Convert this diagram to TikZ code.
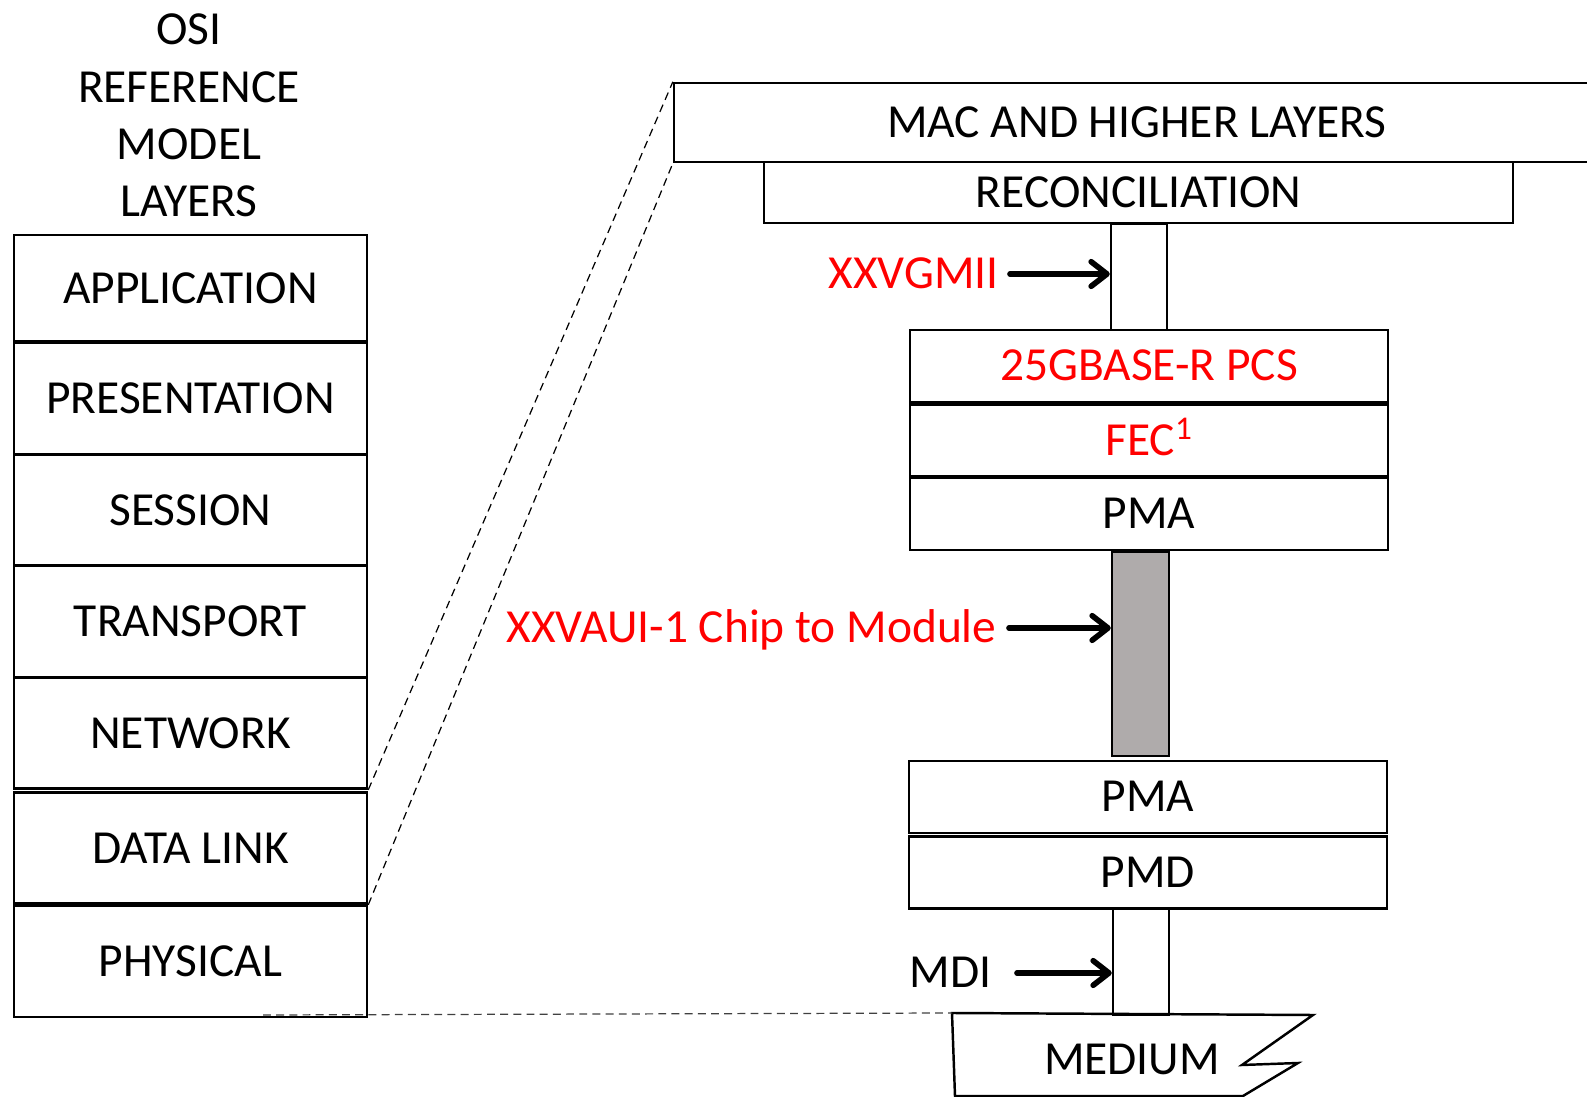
\documentclass[tikz,border=0pt]{standalone}
\usepackage{fontspec}
\setmainfont{Carlito}
\usetikzlibrary{arrows.meta}
\definecolor{auigray}{RGB}{175,171,171}

\begin{document}
\begin{tikzpicture}[
  x=0.02cm, y=-0.02cm,
  every node/.style={font=\fontsize{27pt}{32.6pt}\selectfont, inner sep=0pt},
  osibox/.style={draw, line width=1.5pt, minimum width=7.06cm, minimum height=2.22cm},
  layerbox/.style={draw, line width=1.4pt, minimum width=9.56cm, minimum height=1.44cm,
    text height=17pt, text depth=0pt},
  busbox/.style={draw, line width=1.4pt, minimum width=1.12cm, minimum height=2.12cm},
  lbl/.style={anchor=east, text height=17pt, text depth=0pt},
  ptr/.style={line width=3.2pt, line cap=round,
    -{Straight Barb[length=9pt,width=14pt,line cap=round,line join=round]}},
  zoomline/.style={dash pattern=on 4.5pt off 3pt, line width=0.7pt}
]
\useasboundingbox (0,0) rectangle (1587,1097);

% OSI stack
\node[align=center] (osi) at (189,115.5) {OSI\\REFERENCE\\MODEL\\LAYERS};
\node[osibox, minimum height=2.12cm] (app) at (190.5,288) {APPLICATION};
\node[osibox] (pres) at (190.5,398.5) {PRESENTATION};
\node[osibox] (sess) at (190.5,510) {SESSION};
\node[osibox] (trans) at (190.5,621.5) {TRANSPORT};
\node[osibox] (net) at (190.5,733) {NETWORK};
\node[osibox] (dlink) at (190.5,848) {DATA LINK};
\node[osibox] (phys) at (190.5,961.5) {PHYSICAL};

% 25G sublayers
\node[draw, line width=1.4pt, minimum width=18.52cm, minimum height=1.58cm] (mac) at (1137,122.5) {MAC AND HIGHER LAYERS};
\node[draw, line width=1.4pt, minimum width=14.98cm, minimum height=1.22cm] (rs) at (1138.5,192.5) {RECONCILIATION};
\node[busbox] (gmii) at (1139,277) {};
\node[layerbox, text=red] (pcs) at (1149,366) {25GBASE-R PCS};
\node[layerbox, text=red] (fec) at (1149,440.5) {FEC\textsuperscript{1}};
\node[layerbox] (pma) at (1149,514) {PMA};
\node[busbox, fill=auigray, minimum width=1.14cm, minimum height=4.08cm] (aui) at (1140.5,654) {};
\node[layerbox] (pmb) at (1148,797) {PMA};
\node[layerbox] (pmd) at (1148,872.5) {PMD};
\node[busbox] (mdi) at (1141,962) {};

% medium
\draw[line width=1.4pt] (952,1013) coordinate (medtl) -- (1313,1015) -- (1242,1065)
  -- (1298,1063) -- (1243,1096) -- (955,1096) -- cycle;
\node (medium) at (1132,1059) {MEDIUM};

% interface labels
\node[lbl, text=red] (gmiilbl) at (999,274) {XXVGMII};
\node[lbl, text=red] (auilbl) at (997,628) {XXVAUI-1 Chip to Module};
\node[lbl] (mdilbl) at (992,973) {MDI};
\draw[ptr] ([xshift=0.22cm]gmiilbl.east) -- (gmiilbl.east -| gmii.west);
\draw[ptr] ([xshift=0.24cm]auilbl.east) -- (auilbl.east -| aui.west);
\draw[ptr] ([xshift=0.5cm]mdilbl.east) -- (mdilbl.east -| mdi.west);

% zoom lines
\draw[zoomline] (net.south east) -- (mac.north west);
\draw[zoomline] (dlink.south east) -- (mac.south west);
\coordinate (physcut) at (263,1015);
\draw[zoomline, black!75] (physcut) -- (medtl);
\end{tikzpicture}
\end{document}
